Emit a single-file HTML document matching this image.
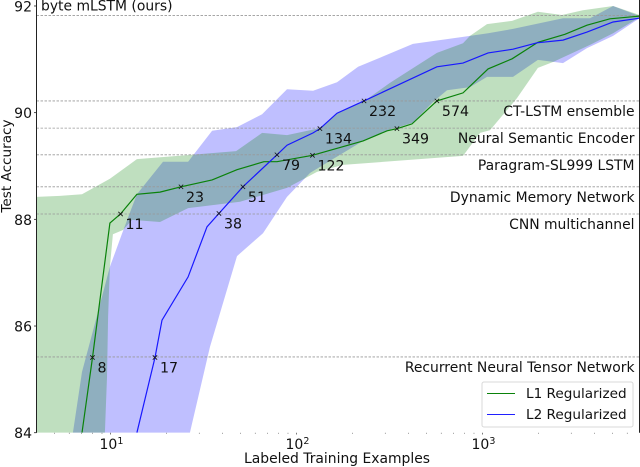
<!DOCTYPE html>
<html>
<head>
<meta charset="utf-8">
<style>
html,body{margin:0;padding:0;background:#fff;width:640px;height:467px;overflow:hidden}
svg{display:block;font-family:"DejaVu Sans","Liberation Sans",sans-serif;fill:#111}
</style>
</head>
<body>
<svg id="chart" width="640" height="467" viewBox="0 0 640 467" xmlns="http://www.w3.org/2000/svg">
  <defs><clipPath id="plot-clip"><rect x="36.5" y="0" width="603" height="432.7"/></clipPath></defs>
  <g id="bands" clip-path="url(#plot-clip)"></g>
  <g id="refs"></g>
  <g id="lines" clip-path="url(#plot-clip)"></g>
  <g id="markers"></g>
  <g id="axes"></g>
  <text x="244" y="463" font-size="13.9">Labeled Training Examples</text>
  <text transform="translate(11,166) rotate(-90)" text-anchor="middle" font-size="13.6">Test Accuracy</text>
  <g>
    <rect x="482" y="382" width="151" height="45" rx="2" fill="#fff" stroke="#d8d8d8" stroke-width="1"/>
    <line x1="487" x2="515" y1="393.5" y2="393.5" stroke="#0a820a" stroke-width="1"/>
    <text x="526" y="398" font-size="13.6">L1 Regularized</text>
    <line x1="487" x2="515" y1="414.5" y2="414.5" stroke="#2020ff" stroke-width="1"/>
    <text x="526" y="419" font-size="13.6">L2 Regularized</text>
  </g>
</svg>
<script>
// log10 of labeled training examples, and test accuracy (%)
const l1LineX = [0.847,0.903,0.997,1.054,1.142,1.266,1.379,1.546,1.680,1.825,1.895,2.086,2.126,2.358,2.487,2.540,2.621,2.755,2.895,3.030,3.159,3.298,3.443,3.562,3.685,3.844];
const l1LineY = [84,85.41,87.93,88.10,88.47,88.51,88.61,88.74,88.93,89.08,89.08,89.20,89.24,89.47,89.66,89.70,89.79,90.22,90.37,90.82,91.01,91.32,91.47,91.64,91.76,91.81];
const l2LineX = [1.142,1.239,1.277,1.417,1.519,1.583,1.712,1.895,1.949,2.089,2.126,2.218,2.363,2.755,2.895,3.030,3.164,3.293,3.433,3.562,3.702,3.844];
const l2LineY = [84,85.41,86.11,86.92,87.86,88.11,88.61,89.21,89.39,89.62,89.70,89.99,90.22,90.86,90.93,91.12,91.19,91.31,91.36,91.51,91.70,91.77];

const l1UpperX = [0.602,0.728,0.847,0.997,1.142,1.438,1.675,1.815,1.949,2.126,2.218,2.358,2.503,2.755,2.895,2.933,3.024,3.159,3.298,3.427,3.540,3.702,3.844];
const l1UpperY = [88.42,88.44,88.47,88.76,89.13,89.21,89.28,89.62,89.58,89.71,89.99,90.20,90.56,91.12,91.30,91.44,91.66,91.72,91.89,91.83,91.92,92.0,91.83];
const l1LowerX = [0.602,0.970,0.981,0.987,0.997,1.013,1.067,1.116,1.266,1.417,1.696,1.949,2.110,2.250,2.895,2.987,3.040,3.185,3.298,3.379,3.578,3.702,3.844];
const l1LowerY = [84,84,85.04,86.17,87.11,87.72,87.80,87.99,87.95,88.21,88.33,88.59,88.89,89.02,89.19,89.62,89.67,90.27,90.84,90.95,91.27,91.49,91.79];

const l2UpperX = [0.798,0.847,0.906,0.997,1.061,1.104,1.142,1.282,1.417,1.546,1.680,1.815,1.949,2.089,2.218,2.331,2.626,2.895,3.030,3.164,3.433,3.578,3.702,3.844];
const l2UpperY = [84,85.14,85.91,87.11,87.72,88.12,88.47,89.08,89.08,89.66,89.73,89.97,90.44,90.41,90.57,90.86,91.29,91.42,91.49,91.57,91.77,91.77,92.0,91.81];
const l2LowerX = [1.427,1.535,1.680,1.820,1.949,2.073,2.358,2.492,2.626,2.734,2.809,2.933,3.024,3.164,3.298,3.433,3.562,3.702,3.844];
const l2LowerY = [84,85.61,87.31,87.74,88.42,88.87,89.47,89.67,89.81,90.20,90.42,90.48,90.67,90.67,90.99,90.93,91.21,91.44,91.77];

const l1MarkerX = [0.903,1.054,1.379,2.086,2.540,2.755];
const l1MarkerY = [85.41,88.10,88.61,89.20,89.70,90.22];
const l1MarkerLabels = ['8','11','23','122','349','574'];
const l2MarkerX = [1.239,1.583,1.712,1.895,2.126,2.363];
const l2MarkerY = [85.41,88.11,88.61,89.21,89.70,90.22];
const l2MarkerLabels = ['17','38','51','79','134','232'];

const refValues = [91.82,90.22,89.71,89.21,88.61,88.10,85.42];
const refNames = ['byte mLSTM (ours)','CT-LSTM ensemble','Neural Semantic Encoder','Paragram-SL999 LSTM','Dynamic Memory Network','CNN multichannel','Recurrent Neural Tensor Network'];

const yTicks = [84,86,88,90,92];
const xTickPowers = [1,2,3];
const xMinorTicks = [5,6,7,8,9,20,30,40,50,60,70,80,90,200,300,400,500,600,700,800,900,2000,3000,4000,5000,6000];

const NS = 'http://www.w3.org/2000/svg';
const xScale = lg => 110.5 + (lg - 1) * 186;
const yScale = v => 432.7 - (v - 84) * 53.34;

function make(tag, parent, attrs, text) {
  const el = document.createElementNS(NS, tag);
  for (const k in attrs) el.setAttribute(k, attrs[k]);
  if (text !== undefined) el.textContent = text;
  parent.appendChild(el);
  return el;
}
function pts(xs, ys) {
  return xs.map((x, i) => xScale(x).toFixed(1) + ',' + yScale(ys[i]).toFixed(1));
}

const bands = document.getElementById('bands');
const blueBand = make('polygon', bands, {points: pts(l2UpperX, l2UpperY).concat(pts(l2LowerX, l2LowerY).reverse()).join(' '), fill: '#0000ff', 'fill-opacity': 0.25});


const greenBand = make('polygon', bands, {points: pts(l1UpperX, l1UpperY).concat(pts(l1LowerX, l1LowerY).reverse()).join(' '), fill: '#008000', 'fill-opacity': 0.25});



const refs = document.getElementById('refs');
refValues.forEach((v, i) => {
  const y = yScale(v);
  const ln = make('line', refs, {x1: 36.5, x2: 639.5, y1: y, y2: y, stroke: '#999', 'stroke-width': 0.8, 'stroke-dasharray': '2.5 1.5'});
  
  
  const first = i === 0;
  const tx = make('text', refs, {x: first ? 41 : 634.5, y: first ? y - 5 : y + 15, 'font-size': 13.9, 'text-anchor': first ? 'start' : 'end'}, refNames[i]);
  
  
});

const linesG = document.getElementById('lines');
const greenLine = make('polyline', linesG, {points: pts(l1LineX, l1LineY).join(' '), fill: 'none', stroke: '#0a820a', 'stroke-width': 1.2});


const blueLine = make('polyline', linesG, {points: pts(l2LineX, l2LineY).join(' '), fill: 'none', stroke: '#1818ff', 'stroke-width': 1.2});



const markersG = document.getElementById('markers');
function drawMarkers(xs, ys, labels) {
  xs.forEach((lg, i) => {
    const cx = xScale(lg), cy = yScale(ys[i]);
    const m = make('path', markersG, {d: `M${cx-2.2} ${cy-2.2}L${cx+2.2} ${cy+2.2}M${cx-2.2} ${cy+2.2}L${cx+2.2} ${cy-2.2}`, stroke: '#111', 'stroke-width': 0.8, fill: 'none'});
    
    
    const t = make('text', markersG, {x: cx + 5, y: cy + 15, 'font-size': 14.2}, labels[i]);
    
    
  });
}
drawMarkers(l1MarkerX, l1MarkerY, l1MarkerLabels);
drawMarkers(l2MarkerX, l2MarkerY, l2MarkerLabels);

const axes = document.getElementById('axes');
const leftSpine = make('line', axes, {x1: 36.5, x2: 36.5, y1: 0, y2: 432.7, stroke: '#222', 'stroke-width': 1});


const rightSpine = make('line', axes, {x1: 639.5, x2: 639.5, y1: 0, y2: 432.7, stroke: '#222', 'stroke-width': 1});



yTicks.forEach(v => {
  const y = yScale(v);
  const tick = make('line', axes, {x1: 34, x2: 36.5, y1: y, y2: y, stroke: '#222', 'stroke-width': 0.8});
  
  
  const lab = make('text', axes, {x: 32, y: y + 5.5, 'font-size': 14, 'text-anchor': 'end'}, String(v));
  
  
});

xTickPowers.forEach(p => {
  const x = xScale(p);
  const tick = make('line', axes, {x1: x, x2: x, y1: 432.7, y2: 434.5, stroke: '#444', 'stroke-width': 0.7});
  
  
  const lab = make('text', axes, {x: x - 11, y: 449, 'font-size': 14}, '10');
  
  
  const sup = make('tspan', lab, {dy: -5, 'font-size': 9.5}, String(p));
  
  
});

xMinorTicks.forEach(n => {
  const x = xScale(Math.log10(n));
  const tick = make('line', axes, {x1: x, x2: x, y1: 432.7, y2: 434, stroke: '#777', 'stroke-width': 0.6});
  
  
});
</script>
</body>
</html>
